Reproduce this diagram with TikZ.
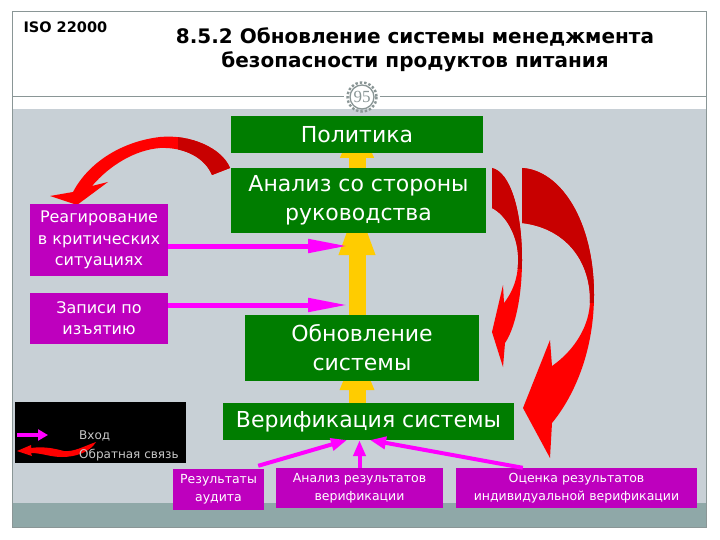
\documentclass[tikz,border=0pt]{standalone}
\usepackage{fontspec}
\setmainfont{DejaVu Sans}
\newfontfamily\numfont{Liberation Serif}
\usetikzlibrary{arrows.meta,calc}
\definecolor{bggray}{RGB}{200,208,214}
\definecolor{bandteal}{RGB}{143,168,168}
\definecolor{framegray}{RGB}{138,150,150}
\definecolor{boxgreen}{RGB}{0,125,0}
\definecolor{boxpurple}{RGB}{190,0,190}
\definecolor{arrmag}{RGB}{255,0,255}
\definecolor{arryel}{RGB}{255,204,0}
\definecolor{reddark}{RGB}{200,0,0}
\definecolor{redbright}{RGB}{255,0,0}
\definecolor{legtext}{RGB}{200,200,200}
\tikzset{
  gbox/.style={fill=boxgreen, text=white, inner sep=0pt, align=center, font=\fontsize{22}{29}\selectfont},
  pbox/.style={fill=boxpurple, text=white, inner sep=0pt, align=center, font=\fontsize{16}{21.5}\selectfont},
  sbox/.style={fill=boxpurple, text=white, inner sep=0pt, align=center, font=\fontsize{12.5}{18}\selectfont},
  inarrow/.style={draw=arrmag, line width=5pt, -{Triangle[length=40pt,width=13pt]}},
  botarrow/.style={draw=arrmag, line width=4pt, -{Triangle[length=16pt,width=12pt]}},
  yarrow/.style={draw=arryel, line width=17pt},
}
\def\leftarrpath{(230,168) .. controls (222,148) and (190,134) .. (160,137) .. controls (125,141) and (90,160) .. (73,192) -- (50,196) -- (77,205) -- (108,182) -- (92,186) .. controls (110,165) and (135,150) .. (160,148) .. controls (185,147) and (205,158) .. (212,175) -- cycle}
\def\smallarrpath{(492,168) .. controls (510,172) and (522,210) .. (522,260) .. controls (522,300) and (514,330) .. (505,343) -- (503,367) -- (492,332) -- (503,285) -- (504,303) .. controls (514,290) and (519,275) .. (518,255) .. controls (517,235) and (506,215) .. (492,208) -- cycle}
\def\bigarrpath{(522,168) .. controls (560,170) and (594,220) .. (594,295) .. controls (594,350) and (575,395) .. (552,423) -- (550,458) -- (523,408) -- (550,340) -- (552,366) .. controls (575,350) and (590,325) .. (590,300) .. controls (590,260) and (565,228) .. (522,223) -- cycle}
\begin{document}
\begin{tikzpicture}[x=1pt,y=-1pt]
\useasboundingbox (0,0) rectangle (720,540);
% background and frame
\fill[white] (0,0) rectangle (720,540);
\fill[bggray] (12,109) rectangle (706,503);
\fill[bandteal] (12,503) rectangle (706,527);
\draw[framegray, line width=1pt] (12,12) rectangle (706,527);
% header
\node[anchor=west, font=\bfseries\fontsize{14.5}{16}\selectfont] (iso) at (20,27) {ISO 22000};
\node[align=center, font=\bfseries\fontsize{20}{24}\selectfont] (title) at (415,50) {8.5.2 Обновление системы менеджмента\\безопасности продуктов питания};
\node[circle, draw=framegray, line width=1.3pt, fill=white, minimum size=24pt, inner sep=0pt, text=framegray, font=\numfont\fontsize{17}{17}\selectfont] (num) at (362,97) {95};
\draw[framegray, line width=2.4pt, dotted] (num.center) circle (14.5);
\draw[framegray, line width=1pt] (12,97) -- ($(num.west)+(-5,0)$);
\draw[framegray, line width=1pt] ($(num.east)+(5,0)$) -- (706,97);
% red curved feedback arrows
\fill[redbright] \leftarrpath;
\begin{scope}\clip (178,100) rectangle (240,210); \fill[reddark] \leftarrpath; \end{scope}
\fill[redbright] \smallarrpath;
\begin{scope}\clip (480,150) rectangle (530,268); \fill[reddark] \smallarrpath; \end{scope}
\fill[redbright] \bigarrpath;
\begin{scope}\clip (515,150) rectangle (600,302); \fill[reddark] \bigarrpath; \end{scope}
% yellow arrows (tips hidden under boxes)
\coordinate (t1) at (357,175); \coordinate (h1) at (357,118);
\coordinate (t2) at (357,320); \coordinate (h2) at (357,200);
\coordinate (t3) at (357,410); \coordinate (h3) at (357,345);
\draw[yarrow, -{Triangle[length=40pt,width=31pt]}] (t1) -- (h1);
\draw[yarrow, -{Triangle[length=55pt,width=32pt]}] (t2) -- (h2);
\draw[yarrow, -{Triangle[length=45pt,width=31pt]}] (t3) -- (h3);
% green boxes
\node[gbox, minimum width=252pt, minimum height=37pt] (pol) at (357,134.5) {Политика};
\node[gbox, minimum width=255pt, minimum height=65pt] (anal) at (358.5,200.5) {Анализ со стороны\\руководства};
\node[gbox, minimum width=234pt, minimum height=66pt] (obn) at (362,348) {Обновление\\системы};
\node[gbox, minimum width=291pt, minimum height=37pt] (ver) at (368.5,421.5) {Верификация системы};
% purple boxes
\node[pbox, minimum width=138pt, minimum height=72pt] (reag) at (99,240) {Реагирование\\в критических\\ситуациях};
\node[pbox, minimum width=138pt, minimum height=51pt] (zap) at (99,318) {Записи по\\изъятию};
\node[sbox, minimum width=91pt, minimum height=41pt] (audit) at (218.5,489.5) {Результаты\\аудита};
\node[sbox, minimum width=167pt, minimum height=40pt] (anres) at (359.5,488) {Анализ результатов\\верификации};
\node[sbox, minimum width=241pt, minimum height=40pt] (ocen) at (576.5,488) {Оценка результатов\\индивидуальной верификации};
% magenta input arrows
\coordinate (in1) at (348,246);
\coordinate (in2) at (348,305);
\draw[inarrow] (reag.east |- in1) -- (in1);
\draw[inarrow] (zap.east |- in2) -- (in2);
\coordinate (v1) at (347,440);
\coordinate (v3) at (370,440);
\draw[botarrow] ($(audit.north east)+(-6,-3)$) -- (v1);
\draw[botarrow] (anres.north) -- (anres.north |- ver.south);
\draw[botarrow] ($(ocen.north west)+(67,0)$) -- (v3);
% legend
\node[fill=black, minimum width=171pt, minimum height=61pt, inner sep=0pt, anchor=north west] (leg) at (15,402) {};
\coordinate (la1) at (17,435); \coordinate (la2) at (48,435);
\draw[arrmag, line width=4pt, -{Triangle[length=10pt,width=11pt]}] (la1) -- (la2);
\fill[redbright] (17,451) -- (31,445) -- (31,448) .. controls (45,446) and (56,449) .. (64,451) .. controls (74,452) and (82,447) .. (96,442) .. controls (90,452) and (76,457) .. (62,457) .. controls (50,457) and (42,453) .. (31,453) -- (32,456) -- cycle;
\node[anchor=west, inner sep=0pt, text=legtext, font=\fontsize{12}{12}\selectfont] (lin) at (79,436) {Вход};
\node[anchor=west, inner sep=0pt, text=legtext, font=\fontsize{12}{12}\selectfont] (lfb) at (79,455) {Обратная связь};
\end{tikzpicture}
\end{document}
